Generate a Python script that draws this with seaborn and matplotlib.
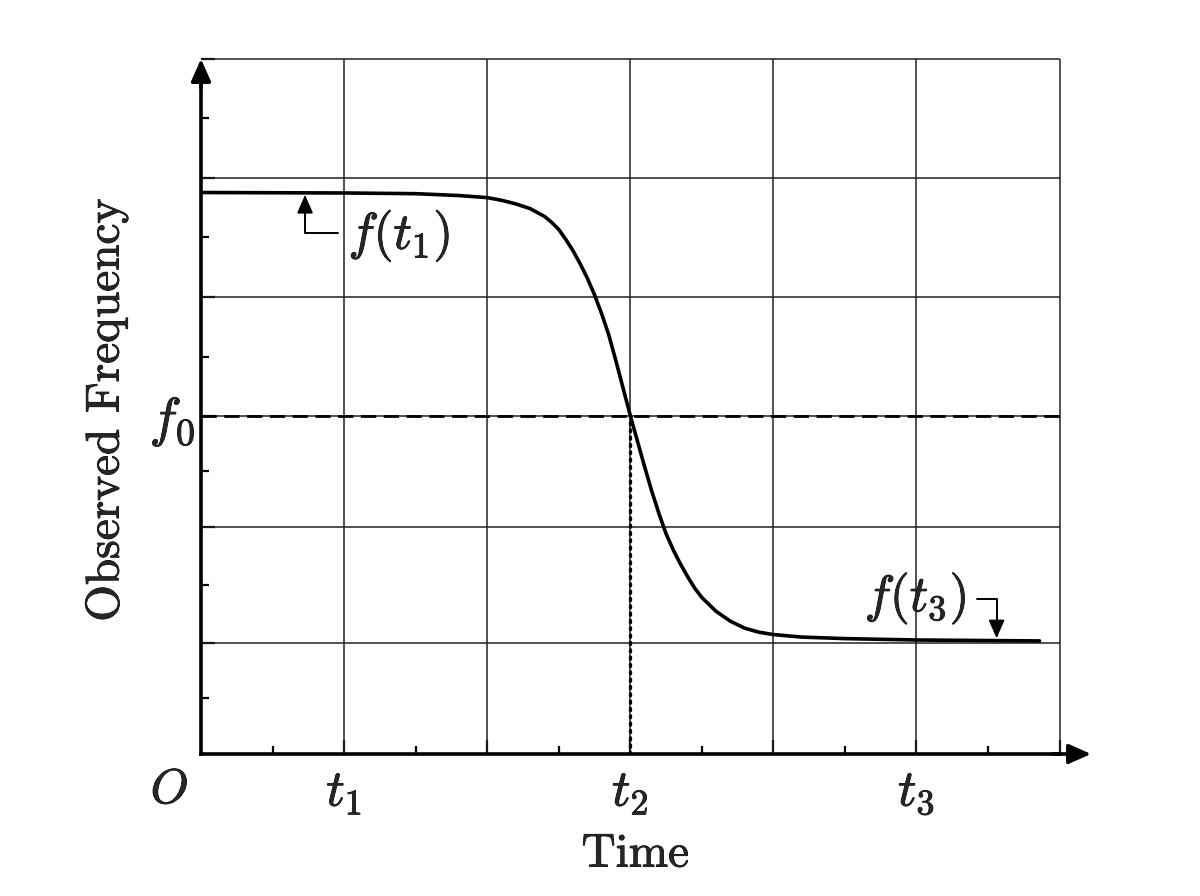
import pandas as pd
import matplotlib
matplotlib.use("Agg")
import matplotlib.pyplot as plt
import matplotlib.patheffects as pe
import seaborn as sns

# curve
time_pts = [0.0, 1.0, 1.5, 1.8, 2.0, 2.1, 2.2, 2.3, 2.4, 2.45, 2.5, 2.55, 2.6,
            2.65, 2.7, 2.75, 2.8, 2.85, 2.9, 2.95, 3.0, 3.05, 3.1, 3.15, 3.2,
            3.25, 3.3, 3.35, 3.4, 3.45, 3.5, 3.6, 3.7, 3.8, 3.9, 4.0, 4.2,
            4.5, 5.0, 5.86]
freq_pts = [4.847, 4.843, 4.837, 4.821, 4.803, 4.780, 4.749, 4.708, 4.641,
            4.590, 4.528, 4.441, 4.344, 4.231, 4.107, 3.964, 3.800, 3.616,
            3.392, 3.157, 2.922, 2.701, 2.480, 2.269, 2.077, 1.902, 1.762,
            1.642, 1.532, 1.432, 1.351, 1.231, 1.146, 1.086, 1.051, 1.031,
            1.009, 0.996, 0.984, 0.976]

grid_t = [1, 2, 3, 4, 5, 6]
minor_t = [0.5, 1.5, 2.5, 3.5, 4.5, 5.5]
grid_f = [0.961, 1.962, 2.922, 3.943, 4.970, 6.0]
minor_f = [0.48, 1.46, 2.44, 3.43, 4.46, 5.49]
t_labels = ["$t_1$", "", "$t_2$", "", "$t_3$", ""]
f_labels = ["", "", "$f_0$", "", "", ""]
t2 = 3.0
f0 = 2.922

sns.set_theme(style="white")
plt.rcParams["font.family"] = "serif"
plt.rcParams["font.serif"] = ["cmr10", "DejaVu Serif"]
plt.rcParams["mathtext.fontset"] = "cm"
plt.rcParams["axes.formatter.use_mathtext"] = True

heavy = [pe.withStroke(linewidth=0.6, foreground="black")]

fig = plt.figure(figsize=(12, 8.96), dpi=100)
ax = fig.add_axes([0.1675, 0.1585, 0.7417, 0.7757])

# grid stops at the last grid line, not at the arrow tips
ax.hlines(grid_f, 0, 6, color="#222222", lw=1.1, zorder=1, clip_on=False)
ax.vlines(grid_t, 0, 6, color="#222222", lw=1.1, zorder=1, clip_on=False)

df = pd.DataFrame({"Time": time_pts, "Freq": freq_pts})
sns.lineplot(data=df, x="Time", y="Freq", ax=ax, color="black", lw=2.6,
             sort=False, estimator=None, zorder=4)

ax.plot([0, 6], [f0, f0], color="black", lw=2.0, ls=(0, (5.5, 2.7)), zorder=3)
ax.plot([t2, t2], [0, f0], color="black", lw=2.4, ls=(0, (0.6, 1.6)),
        dash_capstyle="round", zorder=3)

ax.set_xlim(0, 6.22)
ax.set_ylim(0, 6)

for s in ["top", "right"]:
    ax.spines[s].set_visible(False)
for s in ["left", "bottom"]:
    ax.spines[s].set_linewidth(2.6)
    ax.spines[s].set_color("black")
ax.spines["bottom"].set_bounds(0, 6.0)
ax.spines["left"].set_bounds(0, 5.8)

# axis arrows
head = "-|>,head_length=0.45,head_width=0.2"
ax.annotate("", xy=(6.22, 0), xytext=(5.95, 0), annotation_clip=False,
            arrowprops=dict(arrowstyle=head, lw=2.6, color="black",
                            mutation_scale=30, shrinkA=0, shrinkB=0))
ax.annotate("", xy=(0, 6.0), xytext=(0, 5.75), annotation_clip=False,
            arrowprops=dict(arrowstyle=head, lw=2.6, color="black",
                            mutation_scale=30, shrinkA=0, shrinkB=0))

ax.set_xticks(grid_t)
ax.set_xticklabels(t_labels)
ax.set_yticks(grid_f)
ax.set_yticklabels(f_labels)
ax.set_xticks(minor_t, minor=True)
ax.set_yticks(minor_f, minor=True)
ax.tick_params(which="major", direction="in", length=10, width=1.6,
               color="black", bottom=True, left=True)
ax.tick_params(axis="x", which="major", pad=12, labelsize=37)
ax.tick_params(axis="y", which="major", pad=4, labelsize=39)
ax.tick_params(which="minor", direction="in", length=6, width=1.6,
               color="black", bottom=True, left=True)
for lab in ax.get_xticklabels() + ax.get_yticklabels():
    lab.set_path_effects(heavy)

ax.text(-0.22, -0.32, "$O$", fontsize=35, ha="center", va="center",
        clip_on=False, path_effects=heavy)

ax.set_xlabel("Time", fontsize=34, family="cmr10", path_effects=heavy)
ax.set_ylabel("Observed Frequency", fontsize=34, family="cmr10",
              path_effects=heavy)
ax.xaxis.set_label_coords(0.488, -0.115)
ax.yaxis.set_label_coords(-0.082, 0.495)

# callouts
small = "-|>,head_length=0.5,head_width=0.22"
ax.text(1.03, 4.47, "$f(t_1)$", fontsize=37, ha="left", va="center",
        path_effects=heavy)
ax.annotate("", xy=(0.727, 4.826), xytext=(0.957, 4.498),
            arrowprops=dict(arrowstyle=small,
                            connectionstyle="angle,angleA=180,angleB=90,rad=0",
                            color="black", lw=1.4, mutation_scale=22,
                            shrinkA=0, shrinkB=0))
ax.text(5.35, 1.34, "$f(t_3)$", fontsize=37, ha="right", va="center",
        path_effects=heavy)
ax.annotate("", xy=(5.56, 0.999), xytext=(5.42, 1.338),
            arrowprops=dict(arrowstyle=small,
                            connectionstyle="angle,angleA=0,angleB=90,rad=0",
                            color="black", lw=1.4, mutation_scale=22,
                            shrinkA=0, shrinkB=0))

fig.savefig("out.png", dpi=100)
